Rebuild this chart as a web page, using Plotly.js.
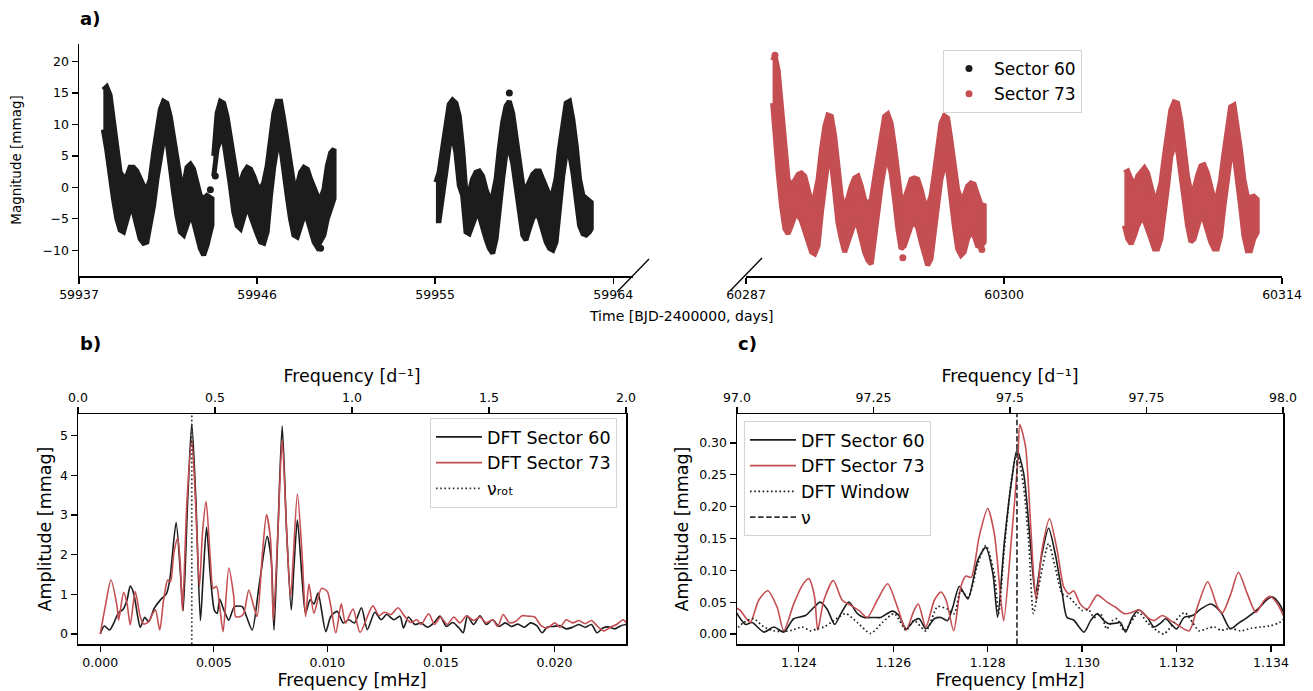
<!DOCTYPE html>
<html><head><meta charset="utf-8">
<script src="https://cdn.plot.ly/plotly-3.0.1.min.js"></script>
<style>html,body{margin:0;padding:0;background:#fff}#chart{width:1313px;height:691px}</style>
</head><body><div id="chart"></div>
<script>
// ---------------- Panel a: light curves (band envelopes) ----------------
const s60aT = [59938.23,59938.40,59938.57,59938.74,59938.91,59939.08,59939.25,59939.42,59939.58,59939.75,59939.92,59940.09,59940.26,59940.43,59940.60,59940.77,59940.94,59941.11,59941.27,59941.44,59941.61,59941.78,59941.95,59942.12,59942.29,59942.46,59942.63,59942.79,59942.96,59943.13,59943.30,59943.47,59943.72];
const s60aHi = [15.5,16.0,14.7,10.3,6.1,2.4,1.6,1.8,3.2,3.2,2.6,1.3,0.3,-0.3,1.3,5.5,9.7,12.4,13.7,13.4,11.3,8.2,4.5,1.3,0.3,3.2,3.7,2.9,0.8,-1.3,-1.8,-1.3,-1.8];
const s60aLo = [9.2,6.0,2.4,-1.8,-5.0,-6.8,-7.1,-5.3,-3.4,-3.9,-6.1,-8.2,-8.9,-8.7,-6.1,-2.9,1.3,5.0,7.6,7.6,2.9,-0.8,-4.5,-7.1,-7.6,-6.1,-4.5,-5.5,-7.6,-9.7,-10.8,-9.2,-6.0];

const s60bT = [59943.81,59943.98,59944.15,59944.31,59944.48,59944.65,59944.82,59944.99,59945.16,59945.33,59945.50,59945.67,59945.83,59946.00,59946.17,59946.34,59946.51,59946.68,59946.85,59947.02,59947.19,59947.35,59947.52,59947.69,59947.86,59948.03,59948.20,59948.37,59948.54,59948.71,59948.88,59949.04,59949.21,59949.38,59949.55,59949.72,59949.89];
const s60bHi = [5.0,11.8,13.7,13.4,11.3,7.6,3.9,1.3,0.8,2.4,3.2,2.9,1.8,0.3,-0.3,0.8,3.4,7.6,11.8,13.7,13.7,10.8,7.6,3.4,0.3,0.3,2.4,3.2,2.9,1.3,-0.3,-1.3,-1.8,-0.3,3.4,5.5,6.1];
const s60bLo = [1.8,6.1,7.6,7.6,3.9,0.3,-3.9,-6.1,-6.6,-5.0,-2.9,-4.5,-6.1,-7.4,-8.7,-8.9,-7.1,-1.3,3.4,6.6,6.6,2.4,-1.3,-5.0,-7.6,-7.9,-6.1,-4.5,-5.0,-7.1,-8.7,-9.5,-8.7,-7.6,-5.0,-3.4,-1.8];

const s60cT = [59955.04,59955.20,59955.37,59955.54,59955.71,59955.88,59956.05,59956.22,59956.39,59956.56,59956.72,59956.89,59957.06,59957.23,59957.40,59957.57,59957.74,59957.91,59958.08,59958.24,59958.41,59958.58,59958.75,59958.92,59959.09,59959.26,59959.43,59959.59,59959.76,59959.93,59960.10,59960.27,59960.44,59960.61,59960.78,59960.95,59961.11,59961.28,59961.45,59961.62,59961.79,59961.96,59962.13,59962.30,59962.47,59962.63,59962.80,59962.89];
const s60cHi = [0.8,2.4,6.1,9.7,13.2,13.9,13.4,11.3,6.1,-1.1,-0.8,1.3,2.4,2.6,1.8,-0.3,-1.8,-1.3,1.3,6.1,10.3,12.9,13.7,11.8,8.2,3.9,0.3,-0.3,0.8,2.1,2.6,2.6,1.3,-0.3,-1.3,-0.8,1.3,6.1,10.3,13.4,13.7,10.8,6.6,1.3,-1.3,-1.8,-2.1,-2.4];
const s60cLo = [-5.3,-5.3,-1.8,2.4,6.6,8.2,5.5,0.3,-1.3,-7.1,-7.4,-6.1,-4.5,-4.5,-6.1,-8.2,-9.7,-10.5,-8.2,-2.9,1.3,5.5,6.1,3.9,0.3,-3.9,-7.6,-8.4,-6.6,-5.0,-3.9,-5.0,-6.8,-8.7,-9.7,-10.0,-8.7,-2.9,1.8,5.5,5.5,2.4,-1.3,-6.1,-7.4,-7.6,-7.1,-6.6];

const s60DotT = [59943.64,59943.89,59949.21,59958.75];
const s60DotM = [-0.4,1.8,-9.7,15.0];

const s73aT = [60288.34,60288.46,60288.62,60288.79,60288.96,60289.12,60289.29,60289.46,60289.63,60289.79,60289.96,60290.13,60290.30,60290.46,60290.63,60290.80,60290.97,60291.13,60291.30,60291.47,60291.63,60291.80,60291.97,60292.14,60292.30,60292.47,60292.64,60292.81,60292.97,60293.14,60293.31,60293.47,60293.64,60293.81,60293.98,60294.14,60294.31,60294.48,60294.65,60294.81,60294.98,60295.15,60295.32,60295.48,60295.65,60295.82,60295.98,60296.15,60296.32,60296.49,60296.65,60296.82,60296.99,60297.16,60297.32,60297.49,60297.66,60297.83,60297.99,60298.16,60298.33,60298.49,60298.66,60298.83,60299.00];
const s73aHi = [20.2,21.0,18.6,12.8,6.0,1.3,0.2,1.3,2.1,2.3,1.8,-0.3,-2.4,-1.4,1.3,6.0,9.7,11.5,11.3,8.1,3.4,-1.4,-3.5,-1.4,0.2,1.5,1.8,0.2,-1.9,-2.9,-1.9,1.3,4.9,8.6,11.3,11.7,10.2,6.5,1.3,-1.9,-1.9,0.0,1.3,1.5,1.3,-0.3,-2.4,-2.9,-1.4,2.3,6.5,10.2,11.4,11.0,7.6,2.8,-0.3,-1.9,-1.4,0.2,0.7,0.5,-1.4,-2.7,-2.9];
const s73aLo = [13.4,10.2,2.3,-2.9,-6.6,-7.4,-6.1,-4.5,-4.5,-5.3,-6.6,-8.7,-10.3,-10.6,-9.3,-4.0,0.7,4.4,3.9,-0.8,-5.6,-8.2,-10.3,-9.3,-7.2,-5.6,-6.1,-8.2,-10.3,-11.6,-12.2,-9.3,-4.0,0.2,3.4,4.4,2.3,-1.9,-6.6,-9.8,-9.3,-7.7,-6.1,-5.6,-6.4,-8.7,-10.8,-12.4,-11.4,-7.7,-2.9,1.3,3.4,2.8,-0.8,-6.1,-9.8,-10.8,-10.3,-8.2,-7.2,-7.7,-9.3,-9.5,-8.7];

const s73bT = [60306.06,60306.23,60306.40,60306.57,60306.73,60306.90,60307.07,60307.23,60307.40,60307.57,60307.73,60307.90,60308.07,60308.24,60308.40,60308.57,60308.74,60308.90,60309.07,60309.24,60309.41,60309.57,60309.74,60309.91,60310.07,60310.24,60310.41,60310.58,60310.74,60310.91,60311.08,60311.24,60311.41,60311.58,60311.74,60311.91,60312.08,60312.25,60312.41,60312.58,60312.75];
const s73bHi = [2.3,2.6,1.3,0.2,1.8,2.6,3.1,2.3,0.2,-1.9,-1.4,0.7,4.9,9.2,12.3,13.6,13.4,10.7,6.5,1.8,-0.8,-0.3,1.8,3.4,3.6,2.3,0.2,-1.9,-1.4,1.3,5.5,9.7,12.8,13.1,10.2,6.0,1.3,-1.4,-1.6,-1.4,-1.9];
const s73bLo = [-6.1,-8.2,-9.0,-7.7,-6.1,-5.1,-5.3,-6.6,-8.2,-9.8,-9.8,-8.2,-4.0,0.2,4.9,6.5,6.0,2.3,-1.9,-6.1,-8.7,-8.2,-6.1,-4.5,-5.1,-6.9,-8.7,-9.8,-9.8,-7.7,-2.9,1.3,4.9,5.5,1.8,-2.9,-7.7,-10.1,-10.1,-8.2,-7.2];

const s73DotT = [60288.46,60294.90,60298.88];
const s73DotM = [21.0,-11.2,-9.9];

const ticksLeft = [59937,59946,59955,59964];
const ticksRight = [60287,60300,60314];
const magTicks = [-10,-5,0,5,10,15,20];

// ---------------- Panel b: low-frequency DFT ----------------
const dftF60b = [0,0.00018,0.00041,0.00059,0.00081,0.00100,0.00118,0.00132,0.00147,0.00165,0.00176,0.00196,0.00213,0.00238,0.00265,0.00291,0.00306,0.00334,0.00353,0.00365,0.00385,0.00403,0.00421,0.00441,0.00453,0.00468,0.00485,0.00503,0.00515,0.00526,0.00544,0.00566,0.00591,0.00625,0.00644,0.00669,0.00699,0.00735,0.00753,0.00765,0.00782,0.00801,0.00821,0.00841,0.00853,0.00868,0.00890,0.00904,0.00924,0.00941,0.00959,0.00993,0.01015,0.01043,0.01070,0.01094,0.01120,0.01150,0.01176,0.01209,0.01237,0.01261,0.01293,0.01320,0.01335,0.01357,0.01385,0.01413,0.01441,0.01469,0.01496,0.01524,0.01552,0.01580,0.01598,0.01617,0.01644,0.01672,0.01700,0.01728,0.01756,0.01783,0.01811,0.01839,0.01867,0.01894,0.01922,0.01946,0.01969,0.01996,0.02024,0.02052,0.02080,0.02107,0.02135,0.02163,0.02187,0.02213,0.02237,0.02265,0.02293,0.02317];
const dftA60b = [0,0.20,0.10,0.27,0.54,0.62,0.86,1.21,1.03,0.44,0.17,0.42,0.31,0.65,0.86,1.01,1.36,2.81,1.53,0.59,3.38,5.30,3.38,0.34,1.45,2.69,1.45,0.59,0.52,0.88,0.61,0.35,0.69,0.69,0.44,0.10,1.20,2.46,1.87,0.10,2.54,5.24,2.54,0.61,1.70,2.88,1.28,0.52,0.86,0.76,1.03,0.06,0.44,0.57,0.28,0.36,0.28,0.66,0.11,0.55,0.36,0.49,0.36,0.45,0.15,0.43,0.24,0.28,0.17,0.28,0.45,0.19,0.29,0.15,0.03,0.45,0.24,0.46,0.24,0.36,0.19,0.28,0.19,0.25,0.17,0.28,0.21,0.03,0.18,0.19,0.21,0.13,0.17,0.24,0.17,0.24,0.03,0.15,0.18,0.13,0.21,0.24];
const dftF73b = [0,0.00022,0.00047,0.00074,0.00081,0.00103,0.00118,0.00132,0.00154,0.00176,0.00191,0.00213,0.00228,0.00243,0.00262,0.00279,0.00297,0.00309,0.00324,0.00341,0.00353,0.00362,0.00382,0.00403,0.00419,0.00437,0.00450,0.00466,0.00485,0.00497,0.00512,0.00526,0.00541,0.00566,0.00588,0.00596,0.00618,0.00632,0.00654,0.00676,0.00691,0.00713,0.00732,0.00750,0.00762,0.00782,0.00801,0.00821,0.00838,0.00868,0.00890,0.00904,0.00919,0.00941,0.00974,0.01000,0.01037,0.01061,0.01080,0.01113,0.01144,0.01200,0.01228,0.01250,0.01280,0.01311,0.01340,0.01367,0.01394,0.01413,0.01446,0.01472,0.01498,0.01528,0.01557,0.01583,0.01613,0.01644,0.01672,0.01700,0.01728,0.01750,0.01774,0.01802,0.01830,0.01857,0.01885,0.01913,0.01941,0.01969,0.02002,0.02024,0.02052,0.02080,0.02107,0.02135,0.02163,0.02190,0.02219,0.02246,0.02274,0.02302,0.02317];
const dftA73b = [0,0.69,1.36,0.69,0.35,1.05,0.77,0.23,1.07,0.44,0.25,0.31,0.48,0.61,0.10,0.86,1.36,1.32,2.04,2.42,1.70,0.59,3.38,4.90,3.38,1.20,2.54,3.34,1.87,1.15,1.20,0.69,0.06,1.66,0.94,0.44,0.44,0.52,1.11,0.69,0.44,1.95,3.01,2.37,0.35,2.54,4.90,2.54,0.94,3.53,1.87,0.44,1.26,0.52,1.15,1.07,0.03,0.76,0.28,0.63,0.04,0.71,0.46,0.55,0.49,0.66,0.45,0.29,0.36,0.24,0.51,0.24,0.43,0.24,0.43,0.28,0.46,0.34,0.43,0.28,0.36,0.19,0.49,0.28,0.32,0.46,0.45,0.43,0.21,0.15,0.28,0.17,0.36,0.28,0.34,0.26,0.34,0.19,0.08,0.17,0.24,0.36,0.28];
const nuRot = 0.00403;
const mhzTicksB = [0,0.005,0.010,0.015,0.020];
const dTicksB = [0,0.5,1.0,1.5,2.0];
const ampTicksB = [0,1,2,3,4,5];

// ---------------- Panel c: pulsation region DFT ----------------
const dftF60c = [1.12265,1.12287,1.12301,1.12326,1.12347,1.12368,1.12389,1.12414,1.12432,1.12445,1.12460,1.12476,1.12489,1.12506,1.12524,1.12538,1.12559,1.12573,1.12598,1.12612,1.12627,1.12644,1.12655,1.12669,1.12687,1.12701,1.12715,1.12726,1.12740,1.12758,1.12779,1.12796,1.12811,1.12821,1.12835,1.12850,1.12862,1.12876,1.12890,1.12901,1.12915,1.12929,1.12943,1.12958,1.12968,1.12982,1.13004,1.13018,1.13032,1.13046,1.13057,1.13071,1.13081,1.13092,1.13106,1.13120,1.13138,1.13152,1.13166,1.13177,1.13188,1.13200,1.13216,1.13234,1.13251,1.13273,1.13294,1.13314,1.13333,1.13350,1.13372,1.13393,1.13404,1.13418,1.13428];
const dftA60c = [0.037,0.015,0.018,0.003,0.011,0.003,0.024,0.029,0.042,0.050,0.039,0.015,0.032,0.050,0.032,0.026,0.026,0.026,0.036,0.029,0.008,0.021,0.024,0.008,0.024,0.026,0.021,0.042,0.075,0.055,0.116,0.136,0.095,0.026,0.142,0.237,0.289,0.253,0.147,0.063,0.126,0.166,0.126,0.063,0.026,0.022,0.003,0.021,0.032,0.021,0.016,0.017,0.018,0.003,0.026,0.038,0.026,0.011,0.017,0.024,0.016,0.008,0.026,0.029,0.039,0.047,0.034,0.008,0.018,0.026,0.039,0.055,0.058,0.047,0.032];
const dftF73c = [1.12265,1.12276,1.12287,1.12297,1.12315,1.12334,1.12354,1.12368,1.12389,1.12407,1.12421,1.12433,1.12440,1.12453,1.12473,1.12492,1.12510,1.12527,1.12545,1.12566,1.12588,1.12609,1.12627,1.12644,1.12653,1.12669,1.12687,1.12701,1.12712,1.12728,1.12743,1.12754,1.12765,1.12782,1.12800,1.12814,1.12828,1.12834,1.12850,1.12864,1.12868,1.12880,1.12890,1.12897,1.12903,1.12915,1.12931,1.12947,1.12961,1.12972,1.12982,1.12996,1.13011,1.13032,1.13053,1.13071,1.13089,1.13106,1.13120,1.13138,1.13152,1.13170,1.13188,1.13205,1.13227,1.13244,1.13266,1.13287,1.13297,1.13315,1.13331,1.13350,1.13368,1.13386,1.13399,1.13414,1.13428];
const dftA73c = [0.042,0.037,0.026,0.018,0.053,0.068,0.042,0.005,0.047,0.076,0.087,0.060,0.006,0.053,0.084,0.053,0.045,0.037,0.026,0.053,0.079,0.042,0.006,0.037,0.047,0.011,0.053,0.066,0.053,0.005,0.074,0.091,0.089,0.153,0.197,0.158,0.053,0.021,0.147,0.274,0.329,0.295,0.184,0.095,0.053,0.132,0.181,0.132,0.074,0.063,0.068,0.047,0.039,0.061,0.050,0.042,0.032,0.034,0.038,0.026,0.021,0.029,0.021,0.013,0.005,0.042,0.082,0.042,0.033,0.063,0.097,0.063,0.034,0.053,0.059,0.047,0.026];
const winF = [1.12265,1.12283,1.12304,1.12326,1.12347,1.12368,1.12386,1.12407,1.12425,1.12438,1.12453,1.12474,1.12499,1.12524,1.12552,1.12577,1.12602,1.12627,1.12644,1.12669,1.12694,1.12715,1.12729,1.12743,1.12759,1.12779,1.12796,1.12814,1.12823,1.12835,1.12850,1.12862,1.12876,1.12887,1.12897,1.12908,1.12929,1.12943,1.12958,1.12972,1.12986,1.13000,1.13014,1.13025,1.13039,1.13052,1.13064,1.13074,1.13089,1.13110,1.13120,1.13138,1.13159,1.13173,1.13195,1.13212,1.13219,1.13234,1.13248,1.13266,1.13280,1.13294,1.13315,1.13336,1.13358,1.13379,1.13400,1.13418,1.13428];
const winA = [0.005,0.018,0.024,0.011,0.005,0.004,0.006,0.011,0.005,0.008,0.011,0.021,0.032,0.018,0.001,0.018,0.032,0.006,0.021,0.005,0.043,0.039,0.032,0.068,0.058,0.110,0.139,0.095,0.032,0.132,0.240,0.285,0.232,0.142,0.032,0.074,0.142,0.105,0.063,0.058,0.047,0.037,0.038,0.026,0.032,0.008,0.021,0.024,0.005,0.026,0.034,0.018,0.005,0.000,0.018,0.032,0.033,0.018,0.005,0.009,0.011,0.006,0.009,0.005,0.009,0.011,0.013,0.018,0.024];
const nuPuls = 1.12862;
const mhzTicksC = [1.124,1.126,1.128,1.130,1.132,1.134];
const dTicksC = [97.0,97.25,97.5,97.75,98.0];
const dTickTextC = ['97.0','97.25','97.5','97.75','98.0'];
const ampTicksC = [0,0.05,0.10,0.15,0.20,0.25,0.30];

// ---------------- styling ----------------
const FONT = 'DejaVu Sans';
const BLACK = '#1c1c1c';
const RED = '#c44e52';
const W = 1313, H = 691;
const px = v => v / W;
const py = v => 1 - v / H;

const magRange = [-14.1, 22.8];
const ampRangeB = [-0.252, 5.546];
const ampRangeC = [-0.0157, 0.3455];

function band(t, hi, lo) {
  return { x: t.concat(t.slice().reverse()), y: hi.concat(lo.slice().reverse()) };
}
function bandTrace(t, hi, lo, color, xa, ya) {
  const b = band(t, hi, lo);
  return { type: 'scatter', mode: 'lines', x: b.x, y: b.y, fill: 'toself', fillcolor: color,
    line: { color: color, width: 5 }, xaxis: xa, yaxis: ya, showlegend: false, hoverinfo: 'skip' };
}

const DOT = '1.6px,2.6px';
const DASH = '5.5px,2.6px';

const traces = [
  bandTrace(s60aT, s60aHi, s60aLo, BLACK, 'x', 'y'),
  bandTrace(s60bT, s60bHi, s60bLo, BLACK, 'x', 'y'),
  bandTrace(s60cT, s60cHi, s60cLo, BLACK, 'x', 'y'),
  { type: 'scatter', mode: 'markers', x: s60DotT, y: s60DotM, name: 'Sector 60', xaxis: 'x', yaxis: 'y',
    marker: { color: BLACK, size: 7 }, legend: 'legend' },
  bandTrace(s73aT, s73aHi, s73aLo, RED, 'x2', 'y2'),
  bandTrace(s73bT, s73bHi, s73bLo, RED, 'x2', 'y2'),
  { type: 'scatter', mode: 'markers', x: s73DotT, y: s73DotM, name: 'Sector 73', xaxis: 'x2', yaxis: 'y2',
    marker: { color: RED, size: 7 }, legend: 'legend' },

  { type: 'scatter', mode: 'lines', x: dftF60b, y: dftA60b, name: 'DFT Sector 60', xaxis: 'x3', yaxis: 'y3',
    line: { color: BLACK, width: 1.6, shape: 'spline', smoothing: 0.7 }, legend: 'legend2' },
  { type: 'scatter', mode: 'lines', x: dftF73b, y: dftA73b, name: 'DFT Sector 73', xaxis: 'x3', yaxis: 'y3',
    line: { color: RED, width: 1.6, shape: 'spline', smoothing: 0.7 }, legend: 'legend2' },
  { type: 'scatter', mode: 'lines', x: [nuRot, nuRot], y: ampRangeB, name: 'νᵣₒₜ', xaxis: 'x3', yaxis: 'y3',
    line: { color: '#333', width: 1.7, dash: DOT }, legend: 'legend2' },
  { type: 'scatter', mode: 'lines', x: [], y: [], xaxis: 'x4', yaxis: 'y3', showlegend: false, hoverinfo: 'skip' },

  { type: 'scatter', mode: 'lines', x: dftF60c, y: dftA60c, name: 'DFT Sector 60', xaxis: 'x5', yaxis: 'y4',
    line: { color: BLACK, width: 1.6, shape: 'spline', smoothing: 0.7 }, legend: 'legend3' },
  { type: 'scatter', mode: 'lines', x: dftF73c, y: dftA73c, name: 'DFT Sector 73', xaxis: 'x5', yaxis: 'y4',
    line: { color: RED, width: 1.6, shape: 'spline', smoothing: 0.7 }, legend: 'legend3' },
  { type: 'scatter', mode: 'lines', x: winF, y: winA, name: 'DFT Window', xaxis: 'x5', yaxis: 'y4',
    line: { color: BLACK, width: 1.7, dash: DOT, shape: 'spline', smoothing: 0.7 }, legend: 'legend3' },
  { type: 'scatter', mode: 'lines', x: [nuPuls, nuPuls], y: ampRangeC, name: 'ν', xaxis: 'x5', yaxis: 'y4',
    line: { color: '#333', width: 1.7, dash: DASH }, legend: 'legend3' },
  { type: 'scatter', mode: 'lines', x: [], y: [], xaxis: 'x6', yaxis: 'y4', showlegend: false, hoverinfo: 'skip' }
];

const tickFont = { family: FONT, size: 12.5, color: '#000' };
const base = {
  showline: true, linecolor: '#000', linewidth: 1.5, ticks: 'outside', ticklen: 6, tickwidth: 1.3,
  tickcolor: '#000', showgrid: false, zeroline: false, tickfont: tickFont, automargin: false, fixedrange: true
};
const titleFontA = { family: FONT, size: 13.5, color: '#000' };
const titleFontBC = { family: FONT, size: 17.5, color: '#000' };

const legendBase = {
  bgcolor: 'rgba(255,255,255,0.85)', bordercolor: '#d4d4d4', borderwidth: 1,
  font: { family: FONT, size: 17.5, color: '#000' }, xanchor: 'left', yanchor: 'top',
  tracegroupgap: 0, itemwidth: 46
};

const layout = {
  width: W, height: H,
  margin: { l: 0, r: 0, t: 0, b: 0 },
  paper_bgcolor: '#fff', plot_bgcolor: 'rgba(0,0,0,0)',
  font: { family: FONT, color: '#000' },
  hovermode: false,
  // panel a
  xaxis: Object.assign({}, base, { domain: [px(79), px(633)], range: [59937, 59965], anchor: 'y',
    tickvals: ticksLeft, ticktext: ticksLeft.map(String) }),
  yaxis: Object.assign({}, base, { domain: [py(276), py(44)], range: magRange, anchor: 'x',
    tickvals: magTicks, title: { text: 'Magnitude [mmag]', font: titleFontA, standoff: 18 } }),
  xaxis2: Object.assign({}, base, { domain: [px(746), px(1282)], range: [60287, 60314], anchor: 'y2',
    tickvals: ticksRight, ticktext: ticksRight.map(String) }),
  yaxis2: Object.assign({}, base, { domain: [py(276), py(44)], range: magRange, anchor: 'x2',
    showline: false, ticks: '', showticklabels: false }),
  // panel b
  xaxis3: Object.assign({}, base, { domain: [px(78), px(626)], range: [-0.00098, 0.02315], anchor: 'y3',
    tickvals: mhzTicksB, tickformat: '.3f', title: { text: 'Frequency [mHz]', font: titleFontBC, standoff: 4 } }),
  xaxis4: Object.assign({}, base, { overlaying: 'x3', side: 'top', range: [0, 2], anchor: 'y3',
    tickvals: dTicksB, tickformat: '.1f', title: { text: 'Frequency [d⁻¹]', font: titleFontBC, standoff: 2 } }),
  yaxis3: Object.assign({}, base, { domain: [py(644), py(414)], range: ampRangeB, anchor: 'x3', mirror: true,
    tickvals: ampTicksB, title: { text: 'Amplitude [mmag]', font: titleFontBC, standoff: 4 } }),
  // panel c
  xaxis5: Object.assign({}, base, { domain: [px(737), px(1283)], range: [1.12269, 1.134255], anchor: 'y4',
    tickvals: mhzTicksC, tickformat: '.3f', title: { text: 'Frequency [mHz]', font: titleFontBC, standoff: 4 } }),
  xaxis6: Object.assign({}, base, { overlaying: 'x5', side: 'top', range: [97, 98], anchor: 'y4',
    tickvals: dTicksC, ticktext: dTickTextC, title: { text: 'Frequency [d⁻¹]', font: titleFontBC, standoff: 2 } }),
  yaxis4: Object.assign({}, base, { domain: [py(644), py(414)], range: ampRangeC, anchor: 'x5', mirror: true,
    tickvals: ampTicksC, tickformat: '.2f', title: { text: 'Amplitude [mmag]', font: titleFontBC, standoff: 6 } }),

  legend: Object.assign({}, legendBase, { x: px(943), y: py(50), font: { family: FONT, size: 17, color: '#000' }, itemwidth: 40 }),
  legend2: Object.assign({}, legendBase, { x: px(617), y: py(418), xanchor: 'right' }),
  legend3: Object.assign({}, legendBase, { x: px(744), y: py(421) }),

  shapes: [
    { type: 'line', xref: 'paper', yref: 'paper', x0: px(617), y0: py(292), x1: px(649), y1: py(259),
      line: { color: '#000', width: 1.3 } },
    { type: 'line', xref: 'paper', yref: 'paper', x0: px(730), y0: py(291), x1: px(762), y1: py(258),
      line: { color: '#000', width: 1.3 } }
  ],
  annotations: [
    { text: 'a)', xref: 'paper', yref: 'paper', x: px(78), y: py(19), xanchor: 'left', yanchor: 'middle',
      showarrow: false, font: { family: FONT, size: 18, color: '#000', weight: 700 } },
    { text: 'b)', xref: 'paper', yref: 'paper', x: px(78), y: py(344), xanchor: 'left', yanchor: 'middle',
      showarrow: false, font: { family: FONT, size: 18, color: '#000', weight: 700 } },
    { text: 'c)', xref: 'paper', yref: 'paper', x: px(736), y: py(344), xanchor: 'left', yanchor: 'middle',
      showarrow: false, font: { family: FONT, size: 18, color: '#000', weight: 700 } },
    { text: 'Time [BJD-2400000, days]', xref: 'paper', yref: 'paper', x: px(681), y: py(316),
      xanchor: 'center', yanchor: 'middle', showarrow: false, font: { family: FONT, size: 14, color: '#000' } }
  ]
};

Plotly.newPlot('chart', traces, layout, { displayModeBar: false, staticPlot: true });
</script></body></html>
